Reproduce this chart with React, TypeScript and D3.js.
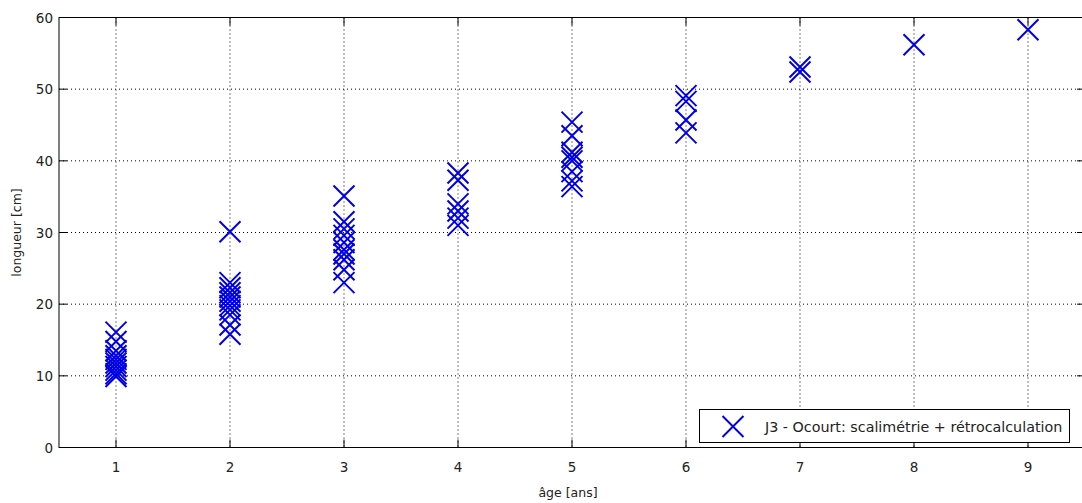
import React from "react";
import * as d3 from "d3";

const ages = [1, 2, 3, 4, 5, 6, 7, 8, 9];
const lengthsByAge: number[][] = [
  [16.1, 14.8, 13.5, 12.8, 12.3, 11.8, 11.3, 10.8, 10.3, 9.9],
  [30.1, 23, 22.3, 21.6, 21, 20.4, 19.8, 19.2, 18.5, 17.1, 15.8],
  [35.1, 31.5, 30.5, 29.6, 28.6, 27.6, 27, 26.2, 24.8, 23],
  [38.3, 37.3, 34, 33, 32, 31],
  [45.4, 43.5, 41.2, 40.5, 40, 38.5, 37.2, 36.4],
  [49.1, 48.3, 45.7, 43.9],
  [53.1, 52.4],
  [56.2],
  [58.3],
];
const xTicks = [1, 2, 3, 4, 5, 6, 7, 8, 9];
const yTicks = [0, 10, 20, 30, 40, 50, 60];
const legendLabel = "J3 - Ocourt: scalimétrie + rétrocalculation";
const xLabel = "âge [ans]";
const yLabel = "longueur [cm]";

export default function App() {
  const W = 1082, H = 503;
  const left = 59, right = 1085, top = 17.5, bottom = 447.5;
  const x = d3.scaleLinear().domain([0.5, 9.5]).range([left, right]);
  const y = d3.scaleLinear().domain([0, 60]).range([bottom, top]);
  const font = "'DejaVu Sans', Verdana, sans-serif";
  const blue = "#0000e6";
  const ms = 10.5;
  const points: { a: number; v: number }[] = [];
  ages.forEach((a, i) => lengthsByAge[i].forEach((v) => points.push({ a, v })));
  const cross = (cx: number, cy: number, s: number, key: any) => (
    <path
      key={key}
      d={`M${cx - s},${cy - s}L${cx + s},${cy + s}M${cx - s},${cy + s}L${cx + s},${cy - s}`}
      stroke={blue}
      strokeWidth={2}
      fill="none"
    />
  );
  return (
    <svg
      width={W}
      height={H}
      style={{ position: "absolute", left: 0, top: 0, background: "#fff" }}
      fontFamily={font}
    >
      <rect x={0} y={0} width={W} height={H} fill="#fff" />
      {xTicks.map((t) => (
        <line key={"gx" + t} x1={x(t)} x2={x(t)} y1={top} y2={bottom} stroke="#000" strokeWidth={1} strokeDasharray="1,3" />
      ))}
      {yTicks.slice(1, -1).map((t) => (
        <line key={"gy" + t} x1={left} x2={right} y1={y(t)} y2={y(t)} stroke="#000" strokeWidth={1} strokeDasharray="1,3" />
      ))}
      <rect x={left} y={top} width={right - left} height={bottom - top} fill="none" stroke="#000" strokeWidth={1} />
      {xTicks.map((t) => (
        <g key={"tx" + t}>
          <line x1={x(t)} x2={x(t)} y1={bottom} y2={bottom - 8} stroke="#000" />
          <line x1={x(t)} x2={x(t)} y1={top} y2={top + 8} stroke="#000" />
          <text x={x(t)} y={471.5} textAnchor="middle" fontSize={13.5} fill="#222">{t}</text>
        </g>
      ))}
      {yTicks.map((t) => (
        <g key={"ty" + t}>
          <line x1={left} x2={left + 8} y1={y(t)} y2={y(t)} stroke="#000" />
          <line x1={right} x2={right - 8} y1={y(t)} y2={y(t)} stroke="#000" />
          <text x={53} y={y(t) + 5} textAnchor="end" fontSize={13.5} fill="#222">{t}</text>
        </g>
      ))}
      {points.map((p, i) => cross(x(p.a), y(p.v), ms, i))}
      <text x={568} y={497} textAnchor="middle" fontSize={12.5} fill="#222">{xLabel}</text>
      <text transform={`translate(21,${(top + bottom) / 2}) rotate(-90)`} textAnchor="middle" fontSize={12.5} fill="#222">{yLabel}</text>
      <rect x={699.5} y={409.5} width={370} height={33} fill="#fff" stroke="#000" strokeWidth={1} />
      {cross(733, 426.5, ms, "leg")}
      <text x={765} y={431.5} fontSize={14.3} fill="#222">{legendLabel}</text>
    </svg>
  );
}
